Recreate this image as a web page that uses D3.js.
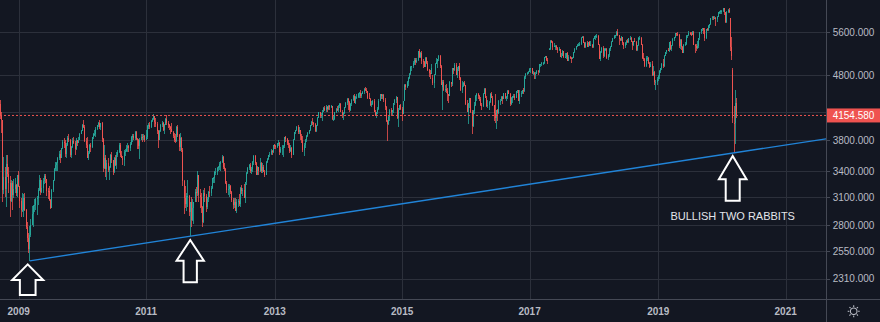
<!DOCTYPE html>
<html><head><meta charset="utf-8">
<script src="https://cdn.jsdelivr.net/npm/d3@7"></script>
<style>
html,body{margin:0;padding:0;background:#131722;}
svg{display:block;}
text{font-family:"Liberation Sans",Arial,sans-serif;}
</style></head><body>
<svg id="chart" width="880" height="322"></svg>
<script>
// Weekly bars [open, high, low, close], first bar = week of 2008-09-22
const firstWeek = "2008-09-22";
const bars2008 = [[4324,4390,4100,4163],[4163,4200,3900,4081],[4081,4085,3040,3176],[3176,3580,3130,3329],[3329,3450,3100,3193],[3193,3600,2995,3487],[3487,3600,3330,3366],[3366,3450,3150,3265],[3265,3340,2881,3055],[3055,3300,3040,3263],[3263,3280,2960,3117],[3117,3310,3090,3192],[3192,3320,3150,3234],[3234,3250,3110,3140],[3140,3360,3100,3349]];
const bars2009 = [[3349,3399,3210,3222],[3222,3230,2980,3061],[3061,3090,2880,2960],[2960,3150,2940,2962],[2962,3130,2890,3090],[3090,3140,2950,2963],[2963,2970,2760,2780],[2780,2830,2640,2675],[2675,2720,2535,2569],[2569,2790,2465,2700],[2700,2860,2690,2803],[2803,3000,2800,2920],[2920,3010,2780,3000],[3000,3080,2940,3010],[3010,3090,2960,3080],[3080,3110,2910,3090],[3090,3200,3010,3180],[3180,3350,3170,3300],[3300,3320,3120,3160],[3160,3300,3150,3200],[3200,3320,3150,3278],[3278,3370,3250,3340],[3340,3370,3260,3310],[3310,3310,3110,3170],[3170,3200,3080,3165],[3165,3220,3060,3070],[3070,3080,2970,2980],[2980,3190,2975,3180],[3180,3300,3160,3290],[3290,3440,3280,3426],[3426,3520,3400,3480],[3480,3520,3400,3500],[3500,3580,3400,3570],[3570,3660,3540,3620],[3620,3670,3500,3570],[3570,3700,3560,3690],[3690,3800,3680,3780],[3780,3830,3700,3760],[3760,3800,3580,3620],[3620,3760,3570,3740],[3740,3860,3720,3830],[3830,3890,3780,3800],[3800,3820,3580,3608],[3608,3720,3560,3710],[3710,3830,3700,3790],[3790,3840,3750,3760],[3760,3790,3600,3680],[3680,3830,3670,3800],[3800,3810,3720,3770],[3770,3850,3760,3810],[3810,3900,3800,3890],[3890,3950,3880,3936]];
const bars2010 = [[3936,4030,3930,4010],[4010,4085,3970,3990],[3990,4010,3780,3790],[3790,3830,3700,3739],[3739,3850,3560,3560],[3560,3660,3540,3630],[3630,3750,3620,3730],[3730,3760,3650,3708],[3708,3850,3700,3840],[3840,3900,3820,3890],[3890,3940,3860,3890],[3890,3990,3850,3960],[3960,4020,3950,4010],[4010,4060,3990,4050],[4050,4090,3960,3980],[3980,4050,3940,4040],[4040,4065,3780,3817],[3817,3830,3390,3440],[3440,3740,3430,3560],[3560,3610,3330,3430],[3430,3540,3290,3508],[3508,3560,3390,3410],[3410,3470,3290,3450],[3450,3620,3440,3610],[3610,3650,3500,3540],[3540,3545,3360,3390],[3390,3580,3380,3570],[3570,3600,3460,3480],[3480,3640,3430,3600],[3600,3670,3580,3643],[3643,3760,3630,3740],[3740,3760,3580,3600],[3600,3660,3560,3570],[3570,3590,3480,3540],[3540,3670,3470,3650],[3650,3680,3590,3660],[3660,3730,3650,3700],[3700,3760,3650,3720],[3720,3740,3650,3690],[3690,3780,3660,3750],[3750,3860,3740,3840],[3840,3880,3780,3860],[3860,3880,3800,3833],[3833,3930,3800,3920],[3920,3930,3800,3820],[3820,3830,3680,3810],[3810,3820,3680,3720],[3720,3830,3550,3810],[3810,3880,3800,3850],[3850,3890,3780,3840],[3840,3890,3810,3860],[3860,3870,3780,3805]];
const bars2011 = [[3805,3940,3800,3850],[3850,4010,3820,4000],[4000,4050,3960,4010],[4010,4060,3960,3980],[3980,4090,3975,4080],[4080,4120,4060,4100],[4100,4170,4090,4150],[4150,4150,3990,4060],[4060,4110,3990,4030],[4030,4060,3890,3930],[3930,3940,3690,3810],[3810,3950,3800,3930],[3930,4030,3920,4020],[4020,4070,3990,4050],[4050,4060,3930,3950],[3950,4030,3890,4020],[4020,4120,4010,4107],[4107,4160,4020,4050],[4050,4080,3970,4020],[4020,4030,3950,3990],[3990,4000,3890,3960],[3960,4050,3920,3920],[3920,3930,3830,3860],[3860,3900,3780,3810],[3810,3880,3760,3790],[3790,4000,3780,3990],[3990,4020,3850,3870],[3870,3880,3660,3710],[3710,3900,3660,3830],[3830,3850,3640,3672],[3672,3700,3230,3280],[3280,3300,2920,3090],[3090,3230,2980,3020],[3020,3140,2950,3110],[3110,3290,2990,3110],[3110,3120,2900,2940],[2940,3050,2693,3040],[3040,3100,2780,2850],[2850,3080,2840,2980],[2980,3050,2810,3050],[3050,3190,3040,3160],[3160,3210,3040,3150],[3150,3400,3110,3350],[3350,3355,3040,3120],[3120,3190,2980,3100],[3100,3140,2930,2990],[2990,3000,2781,2830],[2830,3180,2820,3150],[3150,3200,3050,3110],[3110,3130,2940,2990],[2990,3100,2970,3080],[3080,3170,3040,3160]];
const bars2012 = [[3160,3220,3100,3140],[3140,3220,3110,3200],[3200,3320,3190,3320],[3320,3330,3260,3320],[3320,3400,3260,3390],[3390,3440,3360,3390],[3390,3450,3350,3440],[3440,3470,3400,3450],[3450,3520,3420,3490],[3490,3530,3400,3520],[3520,3600,3500,3580],[3580,3590,3430,3450],[3450,3500,3400,3424],[3424,3440,3250,3260],[3260,3280,3150,3180],[3180,3250,3120,3190],[3190,3250,3100,3220],[3220,3240,3130,3160],[3160,3170,3040,3070],[3070,3090,2970,3010],[3010,3090,2980,3050],[3050,3090,2950,2950],[2950,3080,2922,3050],[3050,3080,2990,3060],[3060,3130,3000,3020],[3020,3210,2990,3197],[3197,3240,3130,3170],[3170,3200,3110,3180],[3180,3250,3090,3090],[3090,3270,3030,3270],[3270,3390,3240,3380],[3380,3450,3370,3440],[3440,3490,3420,3480],[3480,3500,3380,3400],[3400,3450,3370,3430],[3430,3530,3390,3520],[3520,3600,3480,3590],[3590,3600,3480,3500],[3500,3520,3350,3355],[3355,3460,3350,3450],[3450,3450,3350,3400],[3400,3560,3390,3500],[3500,3510,3380,3400],[3400,3500,3380,3450],[3450,3480,3390,3390],[3390,3410,3330,3350],[3350,3530,3350,3520],[3520,3560,3500,3557],[3557,3600,3540,3600],[3600,3650,3580,3620],[3620,3680,3600,3660],[3660,3670,3600,3641]];
const bars2013 = [[3641,3740,3630,3730],[3730,3750,3680,3720],[3720,3740,3680,3710],[3710,3760,3700,3760],[3760,3800,3720,3770],[3770,3780,3600,3650],[3650,3710,3630,3680],[3680,3730,3600,3690],[3690,3730,3580,3720],[3720,3850,3700,3840],[3840,3860,3780,3820],[3820,3830,3730,3770],[3770,3800,3700,3731],[3731,3760,3630,3660],[3660,3730,3640,3700],[3700,3710,3570,3600],[3600,3820,3600,3810],[3810,3920,3800,3910],[3910,3950,3880,3940],[3940,4000,3930,3990],[3990,4020,3890,3920],[3920,3990,3890,3950],[3950,3950,3810,3860],[3860,3880,3770,3800],[3800,3860,3640,3670],[3670,3760,3590,3739],[3739,3820,3700,3810],[3810,3870,3780,3860],[3860,3910,3840,3900],[3900,3950,3880,3940],[3940,4020,3930,4010],[4010,4080,4000,4060],[4060,4110,4020,4040],[4040,4060,3980,4030],[4030,4040,3920,3934],[3934,4020,3910,4010],[4010,4130,4000,4120],[4120,4210,4110,4200],[4200,4210,4110,4143],[4143,4190,4110,4160],[4160,4230,4080,4210],[4210,4280,4200,4270],[4270,4300,4220,4240],[4240,4310,4200,4280],[4280,4300,4210,4250],[4250,4320,4240,4300],[4300,4310,4240,4290],[4290,4310,4270,4295],[4295,4300,4090,4100],[4100,4150,4080,4100],[4100,4210,4090,4200],[4200,4260,4190,4250],[4250,4300,4220,4230]];
const bars2014 = [[4230,4320,4200,4300],[4300,4340,4260,4330],[4330,4340,4200,4200],[4200,4230,4120,4165],[4165,4200,4090,4190],[4190,4290,4180,4280],[4280,4360,4270,4350],[4350,4420,4320,4408],[4408,4430,4240,4360],[4360,4370,4210,4230],[4230,4350,4220,4330],[4330,4400,4300,4390],[4390,4470,4380,4460],[4460,4480,4340,4340],[4340,4450,4330,4440],[4440,4480,4400,4440],[4440,4500,4420,4490],[4490,4520,4420,4500],[4500,4550,4420,4450],[4450,4500,4430,4490],[4490,4530,4480,4519],[4519,4580,4490,4570],[4570,4595,4540,4560],[4560,4580,4500,4530],[4530,4540,4400,4420],[4420,4510,4400,4410],[4410,4420,4300,4320],[4320,4380,4290,4330],[4330,4390,4310,4380],[4380,4400,4200,4200],[4200,4230,4140,4150],[4150,4210,4120,4200],[4200,4280,4180,4250],[4250,4400,4240,4381],[4381,4480,4370,4480],[4480,4490,4410,4460],[4460,4490,4400,4470],[4470,4480,4360,4390],[4390,4430,4240,4280],[4280,4300,4060,4080],[4080,4090,3789,4030],[4030,4150,4010,4130],[4130,4250,4080,4233],[4233,4260,4150,4210],[4210,4240,4150,4230],[4230,4350,4190,4340],[4340,4400,4320,4390],[4390,4450,4350,4440],[4440,4440,4100,4110],[4110,4260,3980,4240],[4240,4320,4230,4310],[4310,4330,4240,4250]];
const bars2015 = [[4250,4280,4070,4180],[4180,4380,4170,4380],[4380,4650,4370,4640],[4640,4650,4560,4604],[4604,4700,4590,4690],[4690,4770,4620,4760],[4760,4840,4730,4830],[4830,4960,4810,4951],[4951,4970,4880,4960],[4960,5050,4920,5010],[5010,5100,4980,5070],[5070,5100,4980,5030],[5030,5100,5010,5070],[5070,5240,5060,5240],[5240,5283,5100,5120],[5120,5220,5110,5200],[5200,5230,4990,5046],[5046,5080,4930,5030],[5030,5060,4940,4950],[4950,5130,4940,5110],[5110,5130,4990,5007],[5007,5050,4880,4890],[4890,4910,4770,4840],[4840,4900,4730,4830],[4830,5000,4820,4920],[4750,4810,4640,4670],[4670,4820,4580,4810],[4810,5010,4800,5000],[5000,5110,4990,5040],[5040,5090,4930,5082],[5082,5170,5060,5150],[5150,5160,4920,4960],[4960,4980,4630,4630],[4600,4720,4230,4680],[4680,4720,4530,4550],[4550,4640,4520,4570],[4570,4650,4510,4530],[4530,4580,4370,4480],[4480,4490,4350,4460],[4460,4700,4450,4680],[4680,4690,4600,4650],[4650,4930,4620,4920],[4920,4930,4830,4898],[4898,5010,4870,4980],[4980,5010,4800,4810],[4810,4950,4750,4910],[4910,4970,4870,4957],[4957,5010,4720,4760],[4760,4770,4540,4550],[4550,4700,4500,4620],[4620,4680,4600,4660],[4660,4700,4620,4637]];
const bars2016 = [[4637,4640,4320,4330],[4330,4390,4210,4210],[4210,4350,4030,4340],[4340,4430,4270,4417],[4417,4420,4190,4200],[4200,4240,3892,3995],[3995,4240,3990,4220],[4220,4360,4170,4320],[4320,4470,4300,4460],[4460,4500,4370,4490],[4490,4500,4400,4460],[4460,4470,4370,4400],[4400,4440,4300,4310],[4310,4340,4240,4300],[4300,4500,4290,4490],[4490,4580,4480,4570],[4570,4580,4420,4429],[4429,4450,4280,4300],[4300,4390,4270,4320],[4320,4370,4240,4360],[4360,4500,4350,4490],[4490,4520,4420,4420],[4420,4460,4300,4310],[4310,4320,4080,4190],[4190,4480,4050,4110],[4110,4240,3955,4240],[4240,4250,4080,4190],[4190,4390,4180,4370],[4370,4400,4320,4380],[4380,4450,4370,4440],[4440,4450,4330,4410],[4410,4510,4400,4500],[4500,4510,4400,4420],[4420,4460,4380,4440],[4440,4560,4400,4540],[4540,4560,4490,4490],[4490,4500,4300,4330],[4330,4440,4320,4420],[4420,4460,4340,4450],[4450,4490,4420,4450],[4450,4480,4390,4430],[4430,4540,4420,4540],[4540,4560,4500,4550],[4550,4560,4370,4380],[4380,4550,4330,4490],[4490,4540,4440,4500],[4500,4560,4480,4550],[4550,4580,4480,4530],[4530,4790,4520,4770],[4770,4840,4740,4830],[4830,4850,4810,4840],[4840,4870,4830,4862]];
const bars2017 = [[4862,4920,4860,4910],[4910,4930,4840,4920],[4920,4930,4820,4840],[4840,4880,4810,4840],[4840,4850,4740,4830],[4830,4850,4730,4830],[4830,4900,4820,4870],[4870,4890,4810,4850],[4850,5000,4840,4990],[4990,5000,4940,4990],[4990,5040,4970,5010],[5010,5030,4980,5020],[5020,5130,5000,5123],[5123,5150,5100,5135],[5135,5140,5060,5070],[5070,5110,4990,5060],[5270,5300,5250,5270],[5270,5440,5260,5430],[5430,5440,5380,5410],[5410,5420,5260,5320],[5320,5380,5310,5340],[5340,5360,5250,5340],[5340,5350,5250,5300],[5300,5320,5200,5260],[5260,5320,5240,5270],[5270,5280,5120,5121],[5121,5190,5110,5150],[5150,5260,5140,5230],[5230,5240,5100,5120],[5120,5200,5100,5130],[5130,5200,5080,5200],[5200,5220,5050,5060],[5060,5160,5050,5130],[5130,5140,5080,5110],[5110,5130,5020,5100],[5100,5130,5090,5110],[5110,5220,5100,5210],[5210,5290,5200,5280],[5280,5330,5260,5330],[5330,5370,5320,5360],[5360,5380,5340,5360],[5360,5400,5330,5370],[5370,5500,5360,5490],[5490,5530,5480,5510],[5510,5530,5380,5380],[5380,5400,5300,5320],[5320,5410,5300,5390],[5390,5420,5320,5320],[5320,5400,5310,5400],[5400,5420,5330,5350],[5350,5420,5340,5360],[5360,5370,5300,5313]];
const bars2018 = [[5313,5480,5300,5470],[5470,5530,5460,5520],[5520,5540,5450,5530],[5530,5565,5480,5530],[5530,5540,5350,5360],[5360,5370,5080,5080],[5080,5230,5060,5220],[5220,5320,5200,5300],[5300,5340,5100,5140],[5140,5300,5130,5270],[5270,5300,5240,5280],[5280,5300,5090,5100],[5100,5180,5070,5167],[5167,5300,5130,5270],[5270,5330,5240,5320],[5320,5420,5310,5410],[5410,5490,5400,5480],[5480,5540,5460,5520],[5520,5550,5490,5540],[5540,5620,5520,5610],[5610,5657,5520,5540],[5540,5550,5350,5460],[5460,5480,5420,5450],[5450,5520,5430,5500],[5500,5510,5360,5390],[5390,5400,5270,5324],[5324,5410,5290,5380],[5380,5440,5350,5430],[5430,5460,5390,5400],[5400,5480,5390,5480],[5480,5520,5440,5480],[5480,5500,5400,5410],[5410,5420,5260,5350],[5350,5430,5340,5420],[5420,5480,5400,5407],[5407,5420,5230,5250],[5250,5360,5240,5350],[5350,5500,5340,5490],[5490,5520,5450,5493],[5493,5500,5350,5360],[5360,5370,5080,5100],[5100,5200,5060,5080],[5080,5100,4950,4970],[4970,5150,4950,5100],[5100,5150,5050,5100],[5100,5120,5000,5020],[5020,5030,4920,4950],[4950,5030,4940,5004],[5004,5060,4790,4810],[4810,4960,4790,4850],[4850,4880,4640,4680],[4680,4720,4555,4680],[4680,4770,4640,4740]];
const bars2019 = [[4740,4800,4710,4780],[4780,4890,4730,4870],[4870,4930,4840,4930],[4930,5010,4900,5000],[5000,5090,4930,4960],[4960,5160,4950,5150],[5150,5220,5140,5210],[5210,5260,5180,5260],[5260,5290,5230,5230],[5230,5410,5220,5400],[5400,5420,5260,5270],[5270,5360,5230,5350],[5350,5480,5340,5470],[5470,5510,5430,5500],[5500,5590,5490,5580],[5580,5590,5520,5570],[5570,5600,5520,5550],[5550,5560,5300,5330],[5330,5460,5280,5440],[5440,5460,5260,5320],[5320,5330,5190,5208],[5208,5370,5190,5360],[5360,5410,5340,5370],[5370,5550,5360,5530],[5530,5550,5480,5539],[5539,5620,5530,5590],[5590,5600,5540,5570],[5570,5600,5520,5550],[5550,5620,5540,5610],[5610,5620,5350,5360],[5360,5370,5200,5330],[5330,5370,5230,5300],[5300,5420,5270,5330],[5330,5490,5300,5481],[5481,5610,5450,5600],[5600,5670,5570,5660],[5660,5690,5620,5690],[5690,5690,5570,5640],[5640,5680,5420,5490],[5490,5670,5460,5660],[5660,5690,5620,5640],[5640,5740,5620,5720],[5720,5770,5680,5760],[5760,5900,5750,5890],[5890,5930,5860,5920],[5920,5940,5850,5890],[5890,5930,5880,5905],[5905,5910,5730,5870],[5870,5930,5820,5920],[5920,6030,5910,6020],[6020,6040,5990,6020],[6020,6070,5970,6040]];
const bars2020 = [[6040,6060,5980,6040],[6040,6110,6030,6100],[6100,6100,5950,6020],[6020,6020,5800,5806],[5806,6040,5800,6030],[6030,6080,6010,6070],[6070,6111,6010,6029],[5890,5900,5230,5310],[5310,5500,5070,5139],[4900,4920,4050,4118],[4050,4300,3632,4048],[4048,4550,3750,4351],[4351,4420,4110,4154.58]];

const yearTicks = [2009, 2011, 2013, 2015, 2017, 2019, 2021];
const priceTicks = [2310, 2550, 2800, 3100, 3400, 3800, 4200, 4800, 5600];
const lastPrice = 4154.58;
const trendAnchors = [["2009-03-09", 2465], ["2020-03-16", 3632]];
const arrowMarks = [["2009-03-09", 2465], ["2011-09-12", 2693], ["2020-03-16", 3632]];
const noteText = "BULLISH TWO RABBITS";

// ---- layout / style ----
const W = 880, H = 322, plotR = 826, plotB = 298.5;
const barStep = 1.2252, x0 = 0.32;
const C = {bg:"#131722", grid:"#2c303b", border:"#454955", text:"#b8bbc4",
  up:"#26a69a", down:"#ef5350", trend:"#2184d8", note:"#e3e5ea"};
const arrowShapes = [
  {dx:-2, dy:3.5, headW:31, headH:15.7, shaftW:15.7, len:30.7},
  {dx:0, dy:3.8, headW:27.3, headH:20.7, shaftW:13.3, len:42.3},
  {dx:-1.5, dy:3.1, headW:27.7, headH:23.3, shaftW:14, len:44.7}
];

const parse = d3.utcParse("%Y-%m-%d");
const start = parse(firstWeek);
const allBars = [].concat(bars2008, bars2009, bars2010, bars2011, bars2012, bars2013,
  bars2014, bars2015, bars2016, bars2017, bars2018, bars2019, bars2020);
const candles = allBars.map((d, i) => ({date: d3.utcDay.offset(start, 7 * i),
  open: d[0], high: d[1], low: d[2], close: d[3]}));

const nSlots = 700;
const x = d3.scaleUtc().domain([start, d3.utcDay.offset(start, 7 * nSlots)])
  .range([x0, x0 + nSlots * barStep]);
const y = d3.scaleLog().domain([2151.6, 6289]).range([298.7, 0]);

const slotDates = d3.range(nSlots).map(i => d3.utcDay.offset(start, 7 * i));
const yearPos = yearTicks.map(Y => ({year: Y, date: slotDates.find(d => d.getUTCFullYear() === Y)}));

const svg = d3.select("#chart");
svg.append("rect").attr("width", W).attr("height", H).attr("fill", C.bg);

// grid
const grid = svg.append("g").attr("shape-rendering", "crispEdges");
grid.selectAll("line.h").data(priceTicks).join("line")
  .attr("x1", 0).attr("x2", plotR)
  .attr("y1", d => Math.round(y(d)) + 0.5).attr("y2", d => Math.round(y(d)) + 0.5)
  .attr("stroke", C.grid).attr("stroke-width", 1);
grid.selectAll("line.v").data(yearPos).join("line")
  .attr("x1", d => Math.round(x(d.date)) + 0.5).attr("x2", d => Math.round(x(d.date)) + 0.5)
  .attr("y1", 0).attr("y2", plotB)
  .attr("stroke", C.grid).attr("stroke-width", 1);

svg.append("clipPath").attr("id", "plotClip").append("rect")
  .attr("x", 0).attr("y", 0).attr("width", plotR).attr("height", plotB);
const plot = svg.append("g").attr("clip-path", "url(#plotClip)");

// candles
const cg = plot.append("g").attr("shape-rendering", "crispEdges");
const col = d => d.close >= d.open ? C.up : C.down;
cg.selectAll("rect.w").data(candles).join("rect")
  .attr("x", d => Math.round(x(d.date) - 0.5))
  .attr("y", d => y(d.high))
  .attr("width", 1)
  .attr("height", d => Math.max(1, y(d.low) - y(d.high)))
  .attr("fill", col).attr("opacity", 0.8);
cg.selectAll("rect.b").data(candles).join("rect")
  .attr("x", d => Math.round(x(d.date) - 0.5))
  .attr("y", d => y(Math.max(d.open, d.close)))
  .attr("width", 1)
  .attr("height", d => Math.max(1, Math.abs(y(d.open) - y(d.close))))
  .attr("fill", col);

// last price dotted line
plot.append("line").attr("x1", 0).attr("x2", plotR)
  .attr("y1", y(lastPrice)).attr("y2", y(lastPrice))
  .attr("stroke", C.down).attr("stroke-width", 1).attr("stroke-dasharray", "2,2");

// trend line (extended right)
const ta = trendAnchors.map(([d, p]) => [x(parse(d)), y(p)]);
const slope = (ta[1][1] - ta[0][1]) / (ta[1][0] - ta[0][0]);
plot.append("line")
  .attr("x1", ta[0][0]).attr("y1", ta[0][1])
  .attr("x2", plotR).attr("y2", ta[0][1] + slope * (plotR - ta[0][0]))
  .attr("stroke", C.trend).attr("stroke-width", 1.4);

// arrows
const arrowPts = arrowMarks.map(([d, p], i) => {
  const s = arrowShapes[i];
  const tx = x(parse(d)) + s.dx, ty = y(p) + s.dy;
  return [[tx, ty], [tx + s.headW / 2, ty + s.headH], [tx + s.shaftW / 2, ty + s.headH],
    [tx + s.shaftW / 2, ty + s.len], [tx - s.shaftW / 2, ty + s.len],
    [tx - s.shaftW / 2, ty + s.headH], [tx - s.headW / 2, ty + s.headH]];
});
svg.append("g").selectAll("polygon").data(arrowPts).join("polygon")
  .attr("points", d => d.map(p => p.join(",")).join(" "))
  .attr("fill", C.bg).attr("stroke", "#ffffff").attr("stroke-width", 2)
  .attr("stroke-linejoin", "miter");

// note text
const lastArrow = arrowPts[arrowPts.length - 1][0];
svg.append("text").attr("x", lastArrow[0]).attr("y", 220)
  .attr("text-anchor", "middle").attr("font-size", 11).attr("fill", C.note)
  .text(noteText);

// axis borders
svg.append("line").attr("x1", plotR + 0.5).attr("x2", plotR + 0.5).attr("y1", 0).attr("y2", H)
  .attr("stroke", C.border).attr("shape-rendering", "crispEdges");
svg.append("line").attr("x1", 0).attr("x2", W).attr("y1", plotB + 0.5).attr("y2", plotB + 0.5)
  .attr("stroke", C.border).attr("shape-rendering", "crispEdges");

// y-axis labels (a label covered by the last-price tag is not drawn)
const ly = y(lastPrice);
const shownTicks = priceTicks.filter(d => Math.abs(y(d) - ly) > 10);
const ya = svg.append("g");
ya.selectAll("line").data(priceTicks).join("line")
  .attr("x1", plotR).attr("x2", plotR + 4)
  .attr("y1", d => Math.round(y(d)) + 0.5).attr("y2", d => Math.round(y(d)) + 0.5)
  .attr("stroke", C.border).attr("shape-rendering", "crispEdges");
ya.selectAll("text").data(shownTicks).join("text")
  .attr("x", 832.7).attr("y", d => y(d)).attr("dy", "0.35em")
  .attr("font-size", 10).attr("fill", C.text)
  .text(d => d3.format(".3f")(d));

// last price label
svg.append("rect").attr("x", plotR + 1).attr("y", ly - 7).attr("width", W - plotR - 1).attr("height", 14)
  .attr("fill", C.down);
svg.append("text").attr("x", 832.7).attr("y", ly).attr("dy", "0.35em")
  .attr("font-size", 10).attr("fill", "#ffffff").text(d3.format(".3f")(lastPrice));

// x-axis labels
svg.append("g").selectAll("text").data(yearPos).join("text")
  .attr("x", d => x(d.date)).attr("y", 315)
  .attr("text-anchor", "middle").attr("font-size", 10).attr("font-weight", "bold")
  .attr("fill", C.text).text(d => d.year);

// settings icon
const gear = svg.append("g").attr("transform", "translate(853.7,311.3)")
  .attr("stroke", C.text).attr("stroke-width", 1.1).attr("fill", "none");
gear.append("circle").attr("r", 3.3);
gear.selectAll("line").data(d3.range(8)).join("line")
  .attr("x1", i => 4.4 * Math.cos(i * Math.PI / 4)).attr("y1", i => 4.4 * Math.sin(i * Math.PI / 4))
  .attr("x2", i => 6 * Math.cos(i * Math.PI / 4)).attr("y2", i => 6 * Math.sin(i * Math.PI / 4));
</script>
</body></html>
